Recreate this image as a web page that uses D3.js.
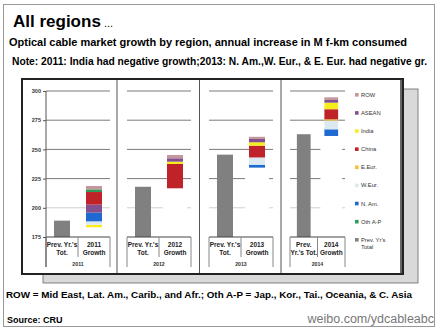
<!DOCTYPE html>
<html>
<head>
<meta charset="utf-8">
<script src="https://cdn.jsdelivr.net/npm/d3@7"></script>
<style>
  body { margin: 0; background: #fff; }
  svg { display: block; font-family: "Liberation Sans", Arial, sans-serif; }
</style>
</head>
<body>
<svg id="chart" width="440" height="330"></svg>
<script>
// values in M f-km
const years = ["2011", "2012", "2013", "2014"];
const prevTotals = [189, 218, 245.5, 263];
const growthBase = [183.3, 216.7, 234.4, 261.5];   // where each growth stack starts
const growth2011 = [["India", 2.2], ["W.Eur.", 2.9], ["N.Am.", 7.4], ["ASEAN", 6.9], ["China", 10.8], ["Oth A-P", 2.3], ["ROW", 2.9]];
const growth2012 = [["China", 20.8], ["India", 2.0], ["ASEAN", 2.9], ["ROW", 2.8]];
const growth2013 = [["N.Am.", 2.5], ["W.Eur.", 6.2], ["China", 10.1], ["India", 2.9], ["ASEAN", 2.8], ["ROW", 1.9]];
const growth2014 = [["N.Am.", 5.7], ["W.Eur.", 7.4], ["E.Eur.", 1.2], ["China", 8.6], ["India", 5.6], ["ASEAN", 2.3], ["ROW", 2.3]];
const growthByYear = [growth2011, growth2012, growth2013, growth2014];
const yTicks = [175, 200, 225, 250, 275, 300];

const legendNames = ["ROW", "ASEAN", "India", "China", "E.Eur.", "W.Eur.", "N. Am.", "Oth A-P", "Prev. Yr's"];
const seriesKeys = ["ROW", "ASEAN", "India", "China", "E.Eur.", "W.Eur.", "N.Am.", "Oth A-P", "Prev"];
const seriesColors = ["#c4979f", "#83508f", "#f6ee1c", "#c0222a", "#f0c040", "#dde9f0", "#1f6ad0", "#2f9a5a", "#808080"];
const color = d3.scaleOrdinal().domain(seriesKeys).range(seriesColors);

const svg = d3.select("#chart");

// outer frame
svg.append("rect").attr("x", 3.5).attr("y", 4.5).attr("width", 431).attr("height", 322)
  .attr("fill", "#fff").attr("stroke", "#999");

// headings
svg.append("text").attr("x", 13).attr("y", 27).attr("font-size", 17).attr("font-weight", "bold")
  .text("All regions").append("tspan").attr("font-size", 11).attr("font-weight", "normal").text(" ...");
svg.append("text").attr("x", 9).attr("y", 46).attr("font-size", 11).attr("font-weight", "bold")
  .attr("textLength", 398).attr("lengthAdjust", "spacingAndGlyphs")
  .text("Optical cable market growth by region,  annual increase in  M f-km consumed");
svg.append("text").attr("x", 12).attr("y", 65).attr("font-size", 10).attr("font-weight", "bold")
  .attr("textLength", 415).attr("lengthAdjust", "spacingAndGlyphs")
  .text("Note: 2011: India had negative growth;2013: N. Am.,W. Eur., & E. Eur. had negative gr.");

// chart box with drop shadow
svg.append("rect").attr("x", 43).attr("y", 89).attr("width", 375).attr("height", 194)
  .attr("fill", "#d9d9d9").attr("stroke", "#666").attr("stroke-width", 0.8);
svg.append("rect").attr("x", 22).attr("y", 79).attr("width", 381).attr("height", 195)
  .attr("fill", "#fff").attr("stroke", "#222").attr("stroke-width", 2);
svg.append("line").attr("x1", 401).attr("x2", 401).attr("y1", 79).attr("y2", 274)
  .attr("stroke", "#333").attr("stroke-width", 1.5);

// panel separators
[117, 199.5, 281].forEach(x => {
  svg.append("line").attr("x1", x).attr("x2", x).attr("y1", 80).attr("y2", 273)
    .attr("stroke", "#555").attr("stroke-width", 1);
});

const y = d3.scaleLinear().domain([175, 300]).range([237, 91]);

const panelLeft = [46, 127, 209, 290];
const panelWidth = [64, 64, 64, 55];

years.forEach((yr, i) => {
  const x0 = panelLeft[i], w = panelWidth[i];
  const x = d3.scaleBand().domain(["prev", "growth"]).range([x0, x0 + w]);
  const barW = x.bandwidth() * 0.5;
  const g = svg.append("g");

  // gridlines
  g.selectAll("line.grid").data(yTicks.slice(1)).enter().append("line")
    .attr("x1", x0).attr("x2", x0 + w)
    .attr("y1", d => y(d)).attr("y2", d => y(d))
    .attr("stroke", d => d === 200 ? "#cfcfcf" : "#7a7a7a").attr("stroke-width", 1);

  // hidden base of the waterfall (white)
  g.append("rect")
    .attr("x", x("growth") + (x.bandwidth() - barW) / 2 - 4).attr("width", barW + 8)
    .attr("y", y(growthBase[i])).attr("height", y(175) - y(growthBase[i]))
    .attr("fill", "#fff");

  // previous year's total
  g.append("rect")
    .attr("x", x("prev") + (x.bandwidth() - barW) / 2).attr("width", barW)
    .attr("y", y(prevTotals[i])).attr("height", y(175) - y(prevTotals[i]))
    .attr("fill", color("Prev"));

  // growth by region, stacked
  const pieces = growthByYear[i];
  const tops = d3.cumsum(pieces, p => p[1]).map(v => v + growthBase[i]);
  g.selectAll("rect.seg").data(pieces).enter().append("rect")
    .attr("x", x("growth") + (x.bandwidth() - barW) / 2).attr("width", barW)
    .attr("y", (d, j) => y(tops[j]))
    .attr("height", (d, j) => y(tops[j] - d[1]) - y(tops[j]))
    .attr("fill", d => color(d[0]));

  // category axis
  g.append("line").attr("x1", x0).attr("x2", x0 + w).attr("y1", y(175)).attr("y2", y(175))
    .attr("stroke", "#444");
  [[x0, 267], [x0 + w, 267], [x0 + x.bandwidth(), 257]].forEach(([lx, ly]) => {
    g.append("line").attr("x1", lx).attr("x2", lx).attr("y1", y(175)).attr("y2", ly)
      .attr("stroke", "#888");
  });

  const narrow = w < 60;
  const prevLines = narrow ? ["Prev.", "Yr.'s Tot."] : ["Prev. Yr.'s", "Tot."];
  const lab = g.append("g").attr("font-size", 6.5).attr("font-weight", "bold")
    .attr("fill", "#222").attr("text-anchor", "middle");
  prevLines.forEach((t, k) => {
    lab.append("text").attr("x", x("prev") + x.bandwidth() / 2).attr("y", 246.5 + k * 8).text(t);
  });
  [yr, "Growth"].forEach((t, k) => {
    lab.append("text").attr("x", x("growth") + x.bandwidth() / 2).attr("y", 246.5 + k * 8).text(t);
  });
  g.append("text").attr("x", x0 + w / 2).attr("y", 265.5).attr("font-size", 5.2)
    .attr("font-weight", "bold").attr("text-anchor", "middle").attr("fill", "#333").text(yr);
});

// value axis
const yAxis = svg.append("g").attr("transform", "translate(46,0)")
  .call(d3.axisLeft(y).tickValues(yTicks).tickSize(3).tickPadding(2));
yAxis.select(".domain").remove();
yAxis.selectAll("text").attr("font-size", 5.5).attr("font-weight", "bold").attr("fill", "#333");
yAxis.selectAll("line").attr("stroke", "#555");
svg.append("line").attr("x1", 46).attr("x2", 46).attr("y1", 91).attr("y2", 267).attr("stroke", "#555");

// legend
const legend = svg.append("g").attr("font-size", 5.8).attr("fill", "#333");
const legY = d3.scalePoint().domain(legendNames).range([95, 240]);
legendNames.forEach((name, k) => {
  const row = legend.append("g").attr("transform", `translate(355,${legY(name)})`);
  row.append("rect").attr("x", 0).attr("y", -2).attr("width", 3.6).attr("height", 3.6)
    .attr("fill", seriesColors[k]);
  row.append("text").attr("x", 6).attr("y", 1.8).text(name);
  if (k === legendNames.length - 1) row.append("text").attr("x", 6).attr("y", 8.6).text("Total");
});

// footnotes
svg.append("text").attr("x", 6).attr("y", 297.5).attr("font-size", 9.5).attr("font-weight", "bold")
  .attr("textLength", 406).attr("lengthAdjust", "spacingAndGlyphs")
  .text("ROW = Mid East, Lat. Am., Carib., and Afr.;  Oth A-P = Jap., Kor., Tai., Oceania,  & C. Asia");
svg.append("text").attr("x", 7).attr("y", 323).attr("font-size", 9).attr("font-weight", "bold")
  .text("Source: CRU");
svg.append("text").attr("x", 434).attr("y", 322.5).attr("font-size", 12.5).attr("text-anchor", "end")
  .attr("fill", "#777").text("weibo.com/ydcableabc");
</script>
</body>
</html>
